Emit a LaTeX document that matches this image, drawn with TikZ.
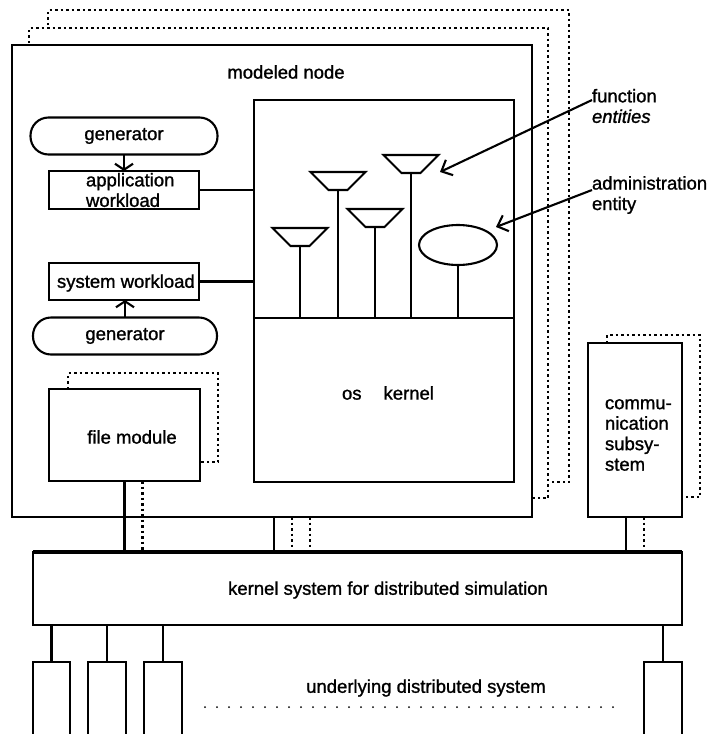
\documentclass[tikz,border=0pt]{standalone}
\usepackage{fontspec}
\setmainfont{Liberation Sans}[FakeBold=1.2]
\usetikzlibrary{arrows.meta,shapes.geometric}
\begin{document}
\begin{tikzpicture}[x=1pt,y=-1pt,line width=2.1pt,
  every node/.style={font=\fontsize{18.5}{20.5}\selectfont, outer sep=0pt},
  box/.style={draw, line width=2.1pt, inner sep=0pt, anchor=north west},
  pill/.style={draw, rounded corners=18pt, inner sep=0pt, minimum height=37pt},
  dots/.style={line width=2.2pt, dash pattern=on 2.5pt off 3pt},
  txt/.style={inner sep=0pt, anchor=west, align=left},
  genarrow/.style={-{Straight Barb[length=6pt,width=18pt]}},
  callout/.style={-{Straight Barb[length=9pt,width=17pt]}},
  funcent/.pic={
    \draw (-27.5,0) -- (27.5,0) -- (9.5,18) -- (-9.5,18) -- cycle;
    \coordinate (-foot) at (0,18);
  }]
\clip (0,0) rectangle (714,734);

% --- replicated node frames (dotted, behind) ---
\draw[dots] (48,25) -- (48,10) -- (569,10) -- (569,482) -- (550,482);
\draw[dots] (29,43) -- (29,28) -- (548,28) -- (548,498) -- (532,498);

% --- modeled node ---
\node[box, minimum width=520pt, minimum height=472pt] (mnode) at (12,45) {};
\node (mtitle) at (286,72) {modeled node};

% --- operating system part ---
\node[box, minimum width=260pt, minimum height=382pt] (os) at (254,100) {};
\coordinate (div) at (254,318);
\draw (div) -- (div -| os.east);
\node (oskernel) at (388,393) {os\hspace{22pt}kernel};

% function entities and administration entity
\pic (e1) at (300,228) {funcent};
\pic (e2) at (338,172) {funcent};
\pic (e3) at (375,209) {funcent};
\pic (e4) at (411,155) {funcent};
\node[draw, ellipse, minimum width=78pt, minimum height=40pt, inner sep=0pt] (admin) at (458,245) {};
\foreach \e in {e1,e2,e3,e4} \draw (\e-foot) -- (\e-foot |- div);
\draw (admin.south) -- (admin.south |- div);

% --- workload generators ---
\node[pill, minimum width=187pt] (gen1) at (124,136) {generator};
\node[box, minimum width=150pt, minimum height=38pt] (app) at (49,171) {};
\node[txt] (apptxt) at (86,190) {application\\workload};
\draw[genarrow] (gen1.south) -- (gen1.south |- app.north);
\draw (app.east) -- (app.east -| os.west);

\node[txt] (systxt) at (57,283) {system workload};
\node[box, minimum width=150pt, minimum height=37pt] (sys) at (49,263) {};
\node[pill, minimum width=184pt] (gen2) at (125,336) {generator};
\draw[genarrow] (gen2.north) -- (gen2.north |- sys.south);
\draw (sys.east) -- (sys.east -| os.west);

% --- file module ---
\node[box, minimum width=151pt, minimum height=92pt] (file) at (49,389) {};
\node (filetxt) at (132,437) {file module};
\draw[dots] (68,389) -- (68,373) -- (218,373) -- (218,462) -- (200,462);

% --- communication subsystem ---
\draw[dots] (607,343) -- (607,335) -- (700,335) -- (700,497) -- (682,497);
\node[box, minimum width=94pt, minimum height=174pt] (comm) at (588,343) {};
\node[txt] (commtxt) at (605,435) {commu-\\nication\\subsy-\\stem};

% --- kernel system for distributed simulation ---
\node[box, minimum width=649pt, minimum height=73pt] (ksim) at (33,552) {};
\draw[line width=3.8pt] (ksim.north west) -- (ksim.north east);
\node (ksimtxt) at (388,590) {kernel system for distributed simulation};

% links to the kernel system
\draw (file.south) -- (file.south |- ksim.north);
\draw[dots] ([xshift=18pt]file.south) -- ([xshift=18pt]file.south |- ksim.north);
\draw ([xshift=2pt]mnode.south) -- ([xshift=2pt]mnode.south |- ksim.north);
\draw[dots] ([xshift=20pt]mnode.south) -- ([xshift=20pt]mnode.south |- ksim.north);
\draw[dots] ([xshift=38pt]mnode.south) -- ([xshift=38pt]mnode.south |- ksim.north);
\draw ([xshift=-9pt]comm.south) -- ([xshift=-9pt]comm.south |- ksim.north);
\draw[dots] ([xshift=9pt]comm.south) -- ([xshift=9pt]comm.south |- ksim.north);

% --- underlying distributed system ---
\node[box, minimum width=37pt, minimum height=90pt] (h1) at (33,662) {};
\node[box, minimum width=38pt, minimum height=90pt] (h2) at (88,662) {};
\node[box, minimum width=38pt, minimum height=90pt] (h3) at (144,662) {};
\node[box, minimum width=38pt, minimum height=90pt] (h4) at (644,662) {};
\foreach \h in {h1,h2,h3,h4} \draw (\h.north) -- (\h.north |- ksim.south);
\node (undtxt) at (426,688) {underlying distributed system};
\foreach \i in {0,...,34} \fill (205+12*\i,707) circle (1pt);

% --- callout labels ---
\node[txt] (fent) at (592,106) {function\\\textit{entities}};
\coordinate (fetip) at (440,172);
\draw[callout] ([yshift=6pt]fent.west) -- (fetip);
\node[txt] (aent) at (592,195) {administration\\entity};
\coordinate (aetip) at (496,227);
\draw[callout] ([yshift=5pt]aent.west) -- (aetip);
\end{tikzpicture}
\end{document}
